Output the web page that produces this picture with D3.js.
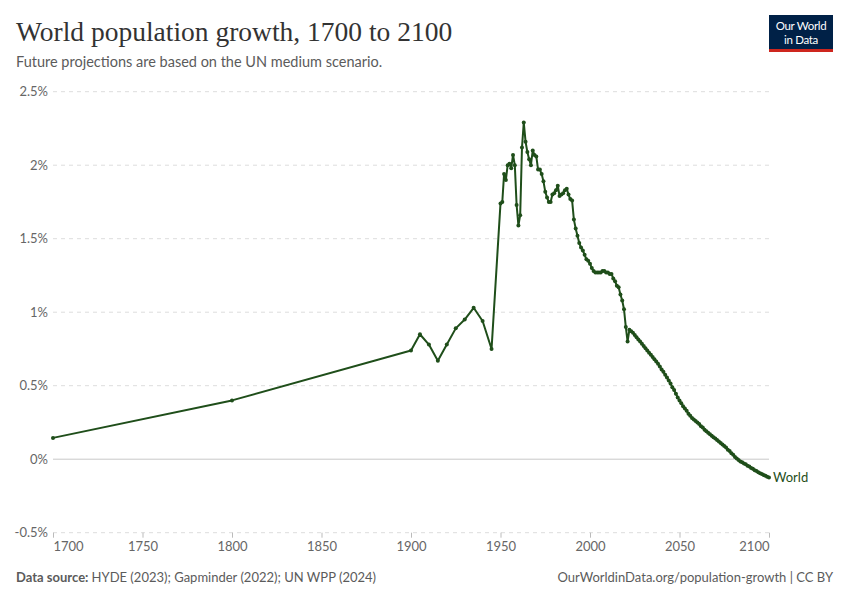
<!DOCTYPE html>
<html>
<head>
<meta charset="utf-8">
<script src="https://cdn.jsdelivr.net/npm/d3@7"></script>
<style>
  body { margin: 0; background: #fff; }
  svg { display: block; font-family: Lato, "Noto Sans", sans-serif; }
</style>
</head>
<body>
<svg id="chart" width="850" height="600"></svg>
<script>
// ---- data ----
const earlyYears = [1700, 1800, 1900, 1905, 1910, 1915, 1920, 1925, 1930, 1935, 1940, 1945];
const earlyGrowth = [0.145, 0.40, 0.74, 0.85, 0.78, 0.67, 0.78, 0.89, 0.95, 1.03, 0.94, 0.75];

// annual values, 1950 to 2100 (history up to 2022, UN medium projection after)
const annualYears = d3.range(1950, 2101);
const annualGrowth = [
  1.74, 1.75, 1.94, 1.90, 2.00, 2.01, 1.98, 2.07, 2.00, 1.73,
  1.59, 1.66, 2.12, 2.29, 2.16, 2.09, 2.04, 2.00, 2.10, 2.07,
  2.06, 1.97, 1.97, 1.94, 1.89, 1.82, 1.78, 1.75, 1.75, 1.80,
  1.81, 1.83, 1.86, 1.79, 1.80, 1.81, 1.83, 1.84, 1.80, 1.77,
  1.76, 1.63, 1.57, 1.52, 1.47, 1.44, 1.42, 1.39, 1.36, 1.35,
  1.33, 1.30, 1.28, 1.27, 1.27, 1.27, 1.27, 1.28, 1.28, 1.27,
  1.27, 1.26, 1.26, 1.23, 1.21, 1.18, 1.17, 1.12, 1.08, 1.02,
  0.90, 0.80, 0.88, 0.87, 0.86, 0.845, 0.83, 0.815, 0.80, 0.785,
  0.77, 0.755, 0.74, 0.725, 0.71, 0.695, 0.68, 0.665, 0.65, 0.63,
  0.61, 0.595, 0.575, 0.555, 0.535, 0.515, 0.49, 0.47, 0.445, 0.42,
  0.40, 0.38, 0.36, 0.345, 0.33, 0.31, 0.295, 0.28, 0.27, 0.26,
  0.25, 0.24, 0.225, 0.215, 0.20, 0.19, 0.18, 0.17, 0.16, 0.15,
  0.14, 0.13, 0.12, 0.11, 0.10, 0.09, 0.08, 0.065, 0.055, 0.04,
  0.03, 0.015, 0.005, -0.005, -0.015, -0.02, -0.03, -0.035, -0.045, -0.05,
  -0.06, -0.065, -0.075, -0.08, -0.088, -0.095, -0.10, -0.108, -0.113, -0.12,
  -0.125
];

const yTicks = [-0.5, 0, 0.5, 1, 1.5, 2, 2.5];
const xTicks = [1700, 1750, 1800, 1850, 1900, 1950, 2000, 2050, 2100];
const seriesName = "World";

const series = earlyYears.map((y, i) => ({ year: y, value: earlyGrowth[i] }))
  .concat(annualYears.map((y, i) => ({ year: y, value: annualGrowth[i] })));

const svg = d3.select("#chart");
const lineColor = "#1f4e1a";
const textGray = "#5b5b5b";

const x = d3.scaleLinear().domain([1700, 2100]).range([53, 769]);
const y = d3.scaleLinear().domain([-0.5, 2.5]).range([532.7, 91.7]);

// header
svg.append("text")
  .attr("x", 16).attr("y", 41)
  .attr("fill", "#333")
  .style("font-family", "'Liberation Serif', 'DejaVu Serif', serif")
  .style("font-size", "27.5px")
  .style("font-weight", "500")
  .text("World population growth, 1700 to 2100");

svg.append("text")
  .attr("x", 16).attr("y", 67)
  .attr("fill", textGray)
  .style("font-size", "14.5px")
  .text("Future projections are based on the UN medium scenario.");

// logo
const logo = svg.append("g").attr("transform", "translate(769,15)");
logo.append("rect").attr("width", 64).attr("height", 37).attr("fill", "#002147");
logo.append("rect").attr("y", 34).attr("width", 64).attr("height", 3).attr("fill", "#ce261e");
logo.append("text").attr("x", 32).attr("y", 14.5).attr("text-anchor", "middle")
  .attr("fill", "#fff").style("font-size", "11.5px").style("letter-spacing", "-0.3px").text("Our World");
logo.append("text").attr("x", 32).attr("y", 28.5).attr("text-anchor", "middle")
  .attr("fill", "#fff").style("font-size", "11.5px").style("letter-spacing", "-0.3px").text("in Data");

// grid
svg.append("g")
  .selectAll("line")
  .data(yTicks.filter(d => d !== 0))
  .join("line")
  .attr("x1", x(1700)).attr("x2", x(2100))
  .attr("y1", d => y(d)).attr("y2", d => y(d))
  .attr("stroke", "#dddddd")
  .attr("stroke-dasharray", "4,4");

svg.append("line")
  .attr("x1", x(1700)).attr("x2", x(2100))
  .attr("y1", y(0)).attr("y2", y(0))
  .attr("stroke", "#c8c8c8")
  .attr("stroke-width", 1);

// y labels
svg.append("g")
  .selectAll("text")
  .data(yTicks)
  .join("text")
  .attr("x", 48)
  .attr("y", d => y(d))
  .attr("dy", "0.35em")
  .attr("text-anchor", "end")
  .attr("fill", "#666")
  .style("font-size", "13px")
  .text(d => d + "%");

// x axis
const xAxis = svg.append("g")
  .attr("transform", `translate(0,${y(-0.5)})`)
  .call(d3.axisBottom(x).tickValues(xTicks).tickFormat(d3.format("d")).tickSize(5).tickPadding(4));
xAxis.select(".domain").remove();
xAxis.selectAll(".tick line").attr("stroke", "#bbb");
xAxis.selectAll(".tick text")
  .attr("fill", "#666")
  .style("font-family", "Lato, sans-serif")
  .style("font-size", "13px")
  .attr("text-anchor", d => d === 1700 ? "start" : d === 2100 ? "end" : "middle");

// line + points
const line = d3.line().x(d => x(d.year)).y(d => y(d.value));
svg.append("path")
  .datum(series)
  .attr("fill", "none")
  .attr("stroke", lineColor)
  .attr("stroke-width", 2)
  .attr("stroke-linejoin", "round")
  .attr("d", line);

svg.append("g")
  .selectAll("circle")
  .data(series)
  .join("circle")
  .attr("cx", d => x(d.year))
  .attr("cy", d => y(d.value))
  .attr("r", 2)
  .attr("fill", lineColor);

const last = series[series.length - 1];
svg.append("text")
  .attr("x", x(last.year) + 4)
  .attr("y", y(last.value))
  .attr("dy", "0.35em")
  .attr("fill", lineColor)
  .style("font-size", "13px")
  .text(seriesName);

// footer
const src = svg.append("text")
  .attr("x", 16).attr("y", 582)
  .attr("fill", textGray)
  .style("font-size", "13px");
src.append("tspan").style("font-weight", "700").text("Data source: ");
src.append("tspan").text("HYDE (2023); Gapminder (2022); UN WPP (2024)");

svg.append("text")
  .attr("x", 833).attr("y", 582)
  .attr("text-anchor", "end")
  .attr("fill", textGray)
  .style("font-size", "13px")
  .text("OurWorldinData.org/population-growth | CC BY");
</script>
</body>
</html>
